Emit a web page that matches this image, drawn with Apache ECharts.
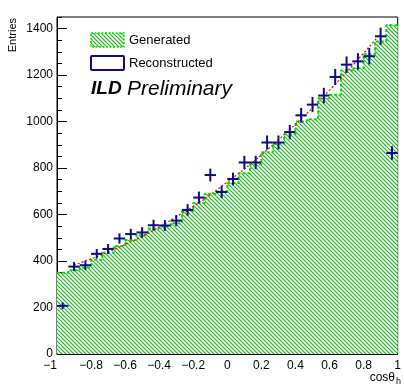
<!DOCTYPE html>
<html>
<head>
<meta charset="utf-8">
<style>
  html, body { margin: 0; padding: 0; background: #fff; }
  #chart { width: 404px; height: 384px; }
</style>
<script src="https://cdn.jsdelivr.net/npm/echarts@6.0.0/dist/echarts.min.js"></script>
</head>
<body>
<div id="chart"></div>
<script>
// histogram binning (cos theta_h)
var nBins = 30;
var xMin = -1;
var xMax = 1;

// generated (green hatched histogram), one value per bin
var generated = [350, 360, 372, 405, 436, 465, 490, 513, 540, 550,
                 563, 615, 650, 690, 700, 736, 778, 816, 868, 905,
                 945, 1000, 1010, 1100, 1115, 1220, 1230, 1290, 1345, 1415];

// reconstructed (blue crosses), one value per bin
var reconstructed = [207, 376, 382, 431, 452, 497, 516, 523, 554, 553,
                     574, 620, 673, 770, 697, 753, 824, 824, 910, 910,
                     955, 1027, 1073, 1112, 1192, 1245, 1259, 1281, 1367, 865];

// red dotted fit, read at a few points
var fitX = [-0.9, -0.6, -0.3, 0, 0.3, 0.6, 0.9];
var fitY = [383, 471, 590, 740, 922, 1135, 1379];

var FONT = 'Liberation Sans, Arial, Helvetica, sans-serif';

var ChartPage = {

	init: function () {
		this.hatch = this.makeHatch();
		this.render();
	},

	// green diagonal hatch pattern
	makeHatch: function () {
		var c = document.createElement('canvas');
		c.width = 4;
		c.height = 4;
		var ctx = c.getContext('2d');
		ctx.fillStyle = '#fff';
		ctx.fillRect(0, 0, 4, 4);
		ctx.strokeStyle = '#14bd14';
		ctx.lineWidth = 1.15;
		[-4, 0, 4].forEach(function (s) {
			ctx.beginPath();
			ctx.moveTo(-1, -1 + s);
			ctx.lineTo(5, 5 + s);
			ctx.stroke();
		});
		return { image: c, repeat: 'repeat' };
	},

	render: function () {
		var myChart = echarts.init(document.getElementById('chart'), null, { renderer: 'canvas' });
		var binW = (xMax - xMin) / nBins;
		var halfBin = binW / 2;

		// step outline of the histogram
		var histData = [];
		var crossData = [];
		for (var i = 0; i < nBins; i++) {
			histData.push([xMin + i * binW, generated[i]]);
			crossData.push([xMin + (i + 0.5) * binW, reconstructed[i]]);
		}
		histData.push([xMax, generated[nBins - 1]]);

		var fitData = fitX.map(function (x, i) { return [x, fitY[i]]; });

		var minus = function (v) {
			return String(v).replace('-', '\u2212');
		};

		var option = {
			animation: false,
			backgroundColor: '#fff',
			grid: {
				left: 57, right: 2, top: 17, bottom: 30,
				show: true, borderColor: '#000', borderWidth: 1, backgroundColor: '#fff'
			},
			xAxis: {
				type: 'value', min: xMin, max: xMax, interval: 0.2,
				axisLine: { onZero: false, lineStyle: { color: '#000', width: 1 } },
				axisTick: { inside: true, length: 9, lineStyle: { color: '#000' } },
				minorTick: { show: true, splitNumber: 5, length: 4, lineStyle: { color: '#000' } },
				splitLine: { show: false },
				axisLabel: {
					margin: 6, fontSize: 12, color: '#000', fontFamily: FONT,
					alignMinLabel: 'right',
					formatter: minus
				}
			},
			yAxis: [{
				type: 'value', min: 0, max: 1450, interval: 200, position: 'left',
				axisLine: { show: true, onZero: false, lineStyle: { color: '#000', width: 1 } },
				axisTick: { inside: true, length: 10, lineStyle: { color: '#000' } },
				splitLine: { show: false },
				axisLabel: {
					margin: 4, fontSize: 12, color: '#000', fontFamily: FONT,
					showMaxLabel: false,
					formatter: function (v) { return String(v); }
				}
			}, {
				// minor ticks only
				type: 'value', min: 0, max: 1450, interval: 50, position: 'left', offset: 0,
				axisLine: { show: false, onZero: false },
				axisTick: { show: true, inside: true, length: 5, lineStyle: { color: '#000' } },
				axisLabel: { show: false },
				splitLine: { show: false }
			}],
			series: [
				{
					name: 'Generated',
					type: 'line',
					step: 'end',
					data: histData,
					showSymbol: false,
					lineStyle: { color: '#00dd00', width: 2, type: [3, 2] },
					areaStyle: { color: this.hatch, opacity: 1 },
					z: 2
				},
				{
					name: 'Fit',
					type: 'line',
					smooth: true,
					data: fitData,
					showSymbol: false,
					lineStyle: { color: '#ff0000', width: 1.2, type: [2, 2] },
					z: 3
				},
				{
					name: 'Reconstructed',
					type: 'custom',
					data: crossData,
					encode: { x: 0, y: 1 },
					z: 4,
					renderItem: function (params, api) {
						var x = api.value(0), y = api.value(1);
						var e = Math.sqrt(y);
						var l = api.coord([x - halfBin, y]);
						var r = api.coord([x + halfBin, y]);
						var t = api.coord([x, y + e]);
						var b = api.coord([x, y - e]);
						var st = { stroke: '#0c0c88', lineWidth: 2 };
						return {
							type: 'group',
							children: [
								{ type: 'line', shape: { x1: l[0], y1: l[1], x2: r[0], y2: r[1] }, style: st },
								{ type: 'line', shape: { x1: t[0], y1: t[1], x2: b[0], y2: b[1] }, style: st }
							]
						};
					}
				}
			],
			graphic: [
				// y title
				{ type: 'text', x: 13, y: 18, rotation: Math.PI / 2, z: 10,
				  style: { text: 'Entries', fontSize: 11, fontFamily: FONT, fill: '#000',
				           textAlign: 'right', textVerticalAlign: 'middle' } },
				// x title
				{ type: 'text', x: 395, y: 378, z: 10,
				  style: { text: 'cos\u03b8', fontSize: 12, fontFamily: FONT, fill: '#000',
				           textAlign: 'right', textVerticalAlign: 'middle' } },
				{ type: 'text', x: 396, y: 382, z: 10,
				  style: { text: 'h', fontSize: 9, fontFamily: FONT, fill: '#000',
				           textAlign: 'left', textVerticalAlign: 'middle' } },
				// legend
				{ type: 'rect', shape: { x: 91, y: 33, width: 33, height: 14 }, z: 10,
				  style: { fill: this.hatch, stroke: '#00dd00', lineWidth: 1.5, lineDash: [2, 1.5] } },
				{ type: 'text', x: 129, y: 40.5, z: 10,
				  style: { text: 'Generated', fontSize: 13, fontFamily: FONT, fill: '#000',
				           textVerticalAlign: 'middle' } },
				{ type: 'rect', shape: { x: 91, y: 56, width: 33, height: 14, r: 1 }, z: 10,
				  style: { fill: '#fff', stroke: '#0c0c88', lineWidth: 2 } },
				{ type: 'text', x: 129, y: 63, z: 10,
				  style: { text: 'Reconstructed', fontSize: 13, fontFamily: FONT, fill: '#000',
				           textVerticalAlign: 'middle' } },
				{ type: 'text', x: 91, y: 89, z: 10,
				  style: { text: 'ILD', fontSize: 19, fontStyle: 'italic', fontWeight: 'bold',
				           fontFamily: FONT, fill: '#000', textVerticalAlign: 'middle' } },
				{ type: 'text', x: 127, y: 89, z: 10,
				  style: { text: 'Preliminary', fontSize: 21, fontStyle: 'italic',
				           fontFamily: FONT, fill: '#000', textVerticalAlign: 'middle' } }
			]
		};

		myChart.setOption(option);
	}
};

ChartPage.init();
</script>
</body>
</html>
